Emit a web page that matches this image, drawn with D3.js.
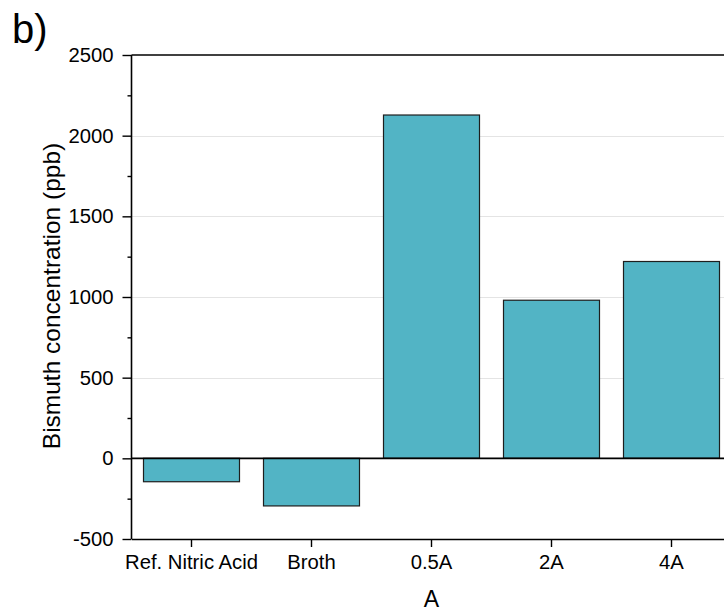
<!DOCTYPE html>
<html>
<head>
<meta charset="utf-8">
<script src="https://cdn.jsdelivr.net/npm/d3@7"></script>
<style>
  html, body { margin: 0; padding: 0; background: #fff; }
  svg { display: block; font-family: "Liberation Sans", Arial, sans-serif; }
</style>
</head>
<body>
<svg id="chart" width="724" height="614"></svg>
<script>
const categories = ["Ref. Nitric Acid", "Broth", "0.5A", "2A", "4A"];
const values = [-145, -295, 2128, 980, 1220];
const yTicks = [-500, 0, 500, 1000, 1500, 2000, 2500];
const yMinorTicks = [-250, 250, 750, 1250, 1750, 2250];
const gridValues = [0, 500, 1000, 1500, 2000];

(function () {
const svg = d3.select("#chart");
const pLeft = 131.5, pTop = 55, pBottom = 539, bandW = 120;
const pRight = pLeft + bandW * categories.length;

const x = d3.scaleBand().domain(categories).range([pLeft, pRight]).paddingInner(0.2).paddingOuter(0.1);
const y = d3.scaleLinear().domain([-500, 2500]).range([pBottom, pTop]);

// gridlines
svg.append("g").selectAll("line").data(gridValues).join("line")
  .attr("x1", pLeft).attr("x2", pRight)
  .attr("y1", d => Math.round(y(d)) + 0.5).attr("y2", d => Math.round(y(d)) + 0.5)
  .attr("stroke", "#e4e4e4").attr("stroke-width", 1);

// bars
svg.append("g").selectAll("rect").data(categories).join("rect")
  .attr("x", d => x(d))
  .attr("width", x.bandwidth())
  .attr("y", (d, i) => y(Math.max(0, values[i])))
  .attr("height", (d, i) => Math.abs(y(values[i]) - y(0)))
  .attr("fill", "#52b4c5")
  .attr("stroke", "#1e1e1e")
  .attr("stroke-width", 1.2);

// zero line
svg.append("line")
  .attr("x1", pLeft).attr("x2", pRight)
  .attr("y1", y(0)).attr("y2", y(0))
  .attr("stroke", "#000").attr("stroke-width", 1.6);

// top frame line
svg.append("line")
  .attr("x1", pLeft).attr("x2", pRight)
  .attr("y1", pTop).attr("y2", pTop)
  .attr("stroke", "#000").attr("stroke-width", 1.6);

// y axis
const yAxis = d3.axisLeft(y).tickValues(yTicks).tickSize(9).tickPadding(9).tickFormat(d => String(d));
const gy = svg.append("g").attr("transform", `translate(${pLeft},0)`).call(yAxis);
gy.attr("font-size", 20.3).attr("font-family", "Liberation Sans, Arial, sans-serif");
gy.select(".domain").attr("stroke-width", 1.6).attr("d", `M0,${pBottom}V${pTop}`);
gy.selectAll(".tick line").attr("stroke-width", 1.4);
gy.selectAll(".tick text").attr("fill", "#000");

// y minor ticks
const yMinor = d3.axisLeft(y).tickValues(yMinorTicks).tickSize(4).tickFormat("");
const gym = svg.append("g").attr("transform", `translate(${pLeft},0)`).call(yMinor);
gym.select(".domain").remove();
gym.selectAll(".tick line").attr("stroke-width", 1.4);

// x axis
const xAxis = d3.axisBottom(x).tickSize(8).tickPadding(8).tickSizeOuter(0);
const gx = svg.append("g").attr("transform", `translate(0,${pBottom})`).call(xAxis);
gx.attr("font-size", 20.3).attr("font-family", "Liberation Sans, Arial, sans-serif");
gx.select(".domain").attr("stroke-width", 1.6);
gx.selectAll(".tick line").attr("stroke-width", 1.4);
gx.selectAll(".tick text").attr("fill", "#000");

// axis titles
svg.append("text")
  .attr("transform", `translate(60,296) rotate(-90)`)
  .attr("text-anchor", "middle")
  .attr("font-size", 24.5)
  .text("Bismuth concentration (ppb)");

svg.append("text")
  .attr("x", x("0.5A") + x.bandwidth() / 2)
  .attr("y", 607)
  .attr("text-anchor", "middle")
  .attr("font-size", 23)
  .text("A");

svg.append("text")
  .attr("x", 12).attr("y", 43)
  .attr("font-size", 40)
  .text("b)");
})();
</script>
</body>
</html>
